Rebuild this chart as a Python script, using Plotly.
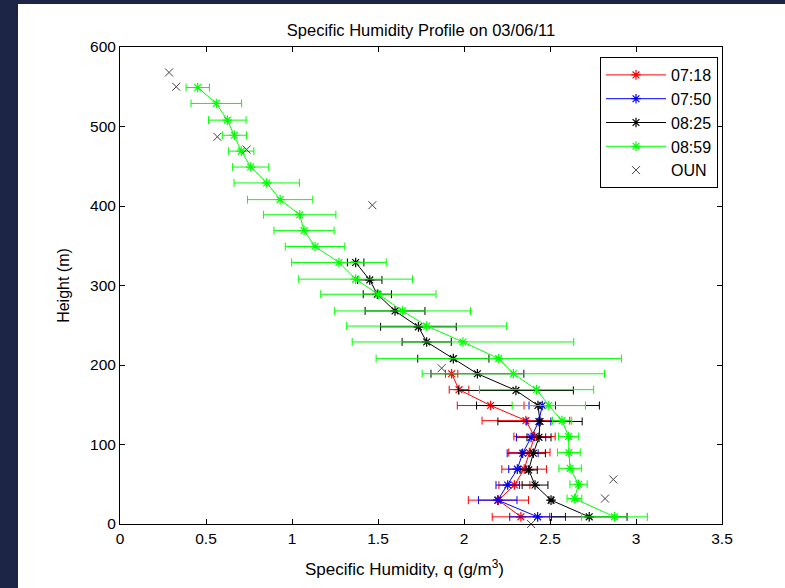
import plotly.graph_objects as go

# ---- data ----
h_0718 = [189, 169, 149, 130, 110, 90, 69, 49, 30, 9]
q_0718 = [1.928, 1.971, 2.155, 2.36, 2.41, 2.38, 2.35, 2.293, 2.20, 2.331]
e_0718 = [0.036, 0.057, 0.194, 0.255, 0.12, 0.12, 0.13, 0.09, 0.175, 0.167]

h_0750 = [149, 129, 109, 89, 69, 49, 30, 9]
q_0750 = [2.455, 2.435, 2.390, 2.341, 2.31, 2.254, 2.196, 2.428]
e_0750 = [0.077, 0.07, 0.085, 0.09, 0.05, 0.068, 0.112, 0.162]

h_0825 = [329, 307, 289, 268, 248, 229, 208, 189, 168, 149, 129, 109, 89, 68, 49, 30, 9]
q_0825 = [1.370, 1.452, 1.496, 1.599, 1.735, 1.783, 1.938, 2.078, 2.302, 2.43,
          2.442, 2.436, 2.403, 2.376, 2.413, 2.506, 2.728]
e_0825 = [0.048, 0.071, 0.082, 0.174, 0.22, 0.143, 0.207, 0.27, 0.334, 0.357,
          0.245, 0.07, 0.07, 0.05, 0.075, 0.012, 0.22]

h_0859 = [549, 529, 508, 489, 469, 449, 429, 408, 389, 369, 349, 329, 308, 289,
          268, 249, 229, 208, 189, 169, 149, 130, 110, 90, 70, 50, 32, 9]
q_0859 = [0.452, 0.560, 0.624, 0.665, 0.705, 0.760, 0.853, 0.931, 1.045, 1.070,
          1.134, 1.273, 1.370, 1.502, 1.643, 1.783, 1.994, 2.202, 2.287, 2.422,
          2.493, 2.570, 2.608, 2.610, 2.617, 2.666, 2.642, 2.875]
e_0859 = [0.068, 0.147, 0.109, 0.070, 0.073, 0.105, 0.19, 0.19, 0.21, 0.175,
          0.173, 0.275, 0.331, 0.335, 0.395, 0.465, 0.644, 0.713, 0.53, 0.332,
          0.213, 0.056, 0.059, 0.066, 0.065, 0.05, 0.043, 0.191]

h_oun = [568, 550, 487, 471, 401, 196, 56, 32, 0]
q_oun = [0.285, 0.327, 0.566, 0.736, 1.467, 1.870, 2.868, 2.820, 2.390]

series = [
    ("07:18", q_0718, h_0718, e_0718, "#ff0000"),
    ("07:50", q_0750, h_0750, e_0750, "#0000ff"),
    ("08:25", q_0825, h_0825, e_0825, "#000000"),
    ("08:59", q_0859, h_0859, e_0859, "#00ff00"),
]

FONT = "Liberation Sans, Arial, sans-serif"

fig = go.Figure()
for name, q, h, e, col in series:
    fig.add_trace(go.Scatter(
        x=q, y=h, name=name, mode="lines+markers", legendgroup=name,
        line=dict(color=col, width=1),
        marker=dict(symbol="asterisk-open", size=8, color=col, line=dict(color=col, width=1.2)),
        error_x=dict(type="data", array=e, symmetric=True, color=col, thickness=1, width=4),
    ))

fig.add_trace(go.Scatter(
    x=q_oun, y=h_oun, name="OUN", mode="markers", legendgroup="OUN",
    marker=dict(symbol="x-thin-open", size=8, color="#444444", line=dict(color="#444444", width=1)),
    cliponaxis=False,
))

# white figure area over the dark slide background
fig.add_shape(type="rect", xref="paper", yref="paper",
              x0=(18 - 120) / 602, x1=1.3, y0=-0.3, y1=(524 - 4) / 477,
              fillcolor="white", line=dict(width=0), layer="below")

axis_common = dict(showline=True, linecolor="black", linewidth=1, mirror="ticks",
                   ticks="inside", ticklen=5, tickcolor="black", showgrid=False,
                   zeroline=False, tickfont=dict(family=FONT, size=15.5, color="black"))

fig.update_xaxes(range=[0, 3.5], dtick=0.5, tick0=0, **axis_common)
fig.update_yaxes(range=[0, 600], dtick=100, tick0=0,
                 title=dict(text="Height (m)", font=dict(family=FONT, size=16, color="black"),
                            standoff=16),
                 **axis_common)

# x-axis label (placed slightly left of centre, as in the reference)
fig.add_annotation(text="Specific Humidity, q (g/m<sup>3</sup>)", xref="paper", yref="paper",
                   x=(404 - 120) / 602, y=(524 - 568) / 477, xanchor="center", yanchor="middle",
                   showarrow=False, font=dict(family=FONT, size=17, color="black"))

fig.update_layout(
    width=785, height=588,
    margin=dict(l=120, r=63, t=47, b=64, autoexpand=False),
    paper_bgcolor="#1c2546", plot_bgcolor="white",
    title=dict(text="Specific Humidity Profile on 03/06/11", x=0.5, xref="paper",
               y=1 - 30 / 588, yanchor="middle",
               font=dict(family=FONT, size=16.5, color="black")),
    legend=dict(x=(718 - 120) / 602, xanchor="right", y=(524 - 57) / 477, yanchor="top",
                bgcolor="white", bordercolor="black", borderwidth=1,
                font=dict(family=FONT, size=16, color="black"),
                tracegroupgap=0, itemwidth=60, entrywidth=124, entrywidthmode="pixels"),
    showlegend=True,
)

fig.write_html("out.html", config={"displayModeBar": False},
               post_script="document.body.style.margin='0';")
